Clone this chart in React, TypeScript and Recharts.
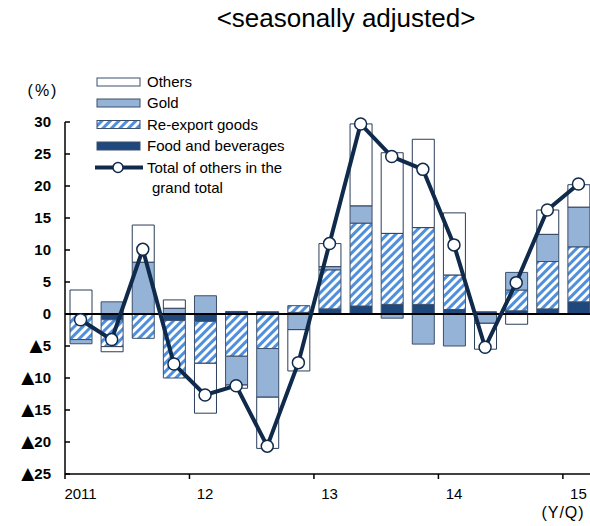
import React from 'react';
import { ComposedChart, Bar, Line, XAxis, YAxis, ReferenceLine } from 'recharts';

// quarters 2011Q1 .. 2015Q1
const quarters = [
  '11Q1', '11Q2', '11Q3', '11Q4',
  '12Q1', '12Q2', '12Q3', '12Q4',
  '13Q1', '13Q2', '13Q3', '13Q4',
  '14Q1', '14Q2', '14Q3', '14Q4',
  '15Q1',
];
const yearLabels = ['2011', '', '', '', '12', '', '', '', '13', '', '', '', '14', '', '', '', '15'];

const food = [0, -0.9, 0, -1.0, -1.15, 0.4, 0.35, 0.25, 0.8, 1.25, 1.5, 1.5, 0.7, 0.35, 0.5, 0.8, 1.9];
const reexport = [-4.0, -4.2, -3.8, -9.0, -6.55, -6.6, -5.4, 1.05, 6.1, 12.95, 11.1, 12.0, 5.4, 0, 3.25, 7.4, 8.6];
const gold = [-0.65, 1.9, 8.1, 0.9, 2.85, -4.5, -7.6, -2.45, 0.5, 2.7, -0.65, -4.7, -5.0, -1.45, 2.75, 4.25, 6.2];
const others = [3.75, -0.8, 5.8, 1.3, -7.8, -0.5, -8.0, -6.45, 3.6, 12.8, 12.6, 13.8, 9.7, -4.05, -1.6, 3.8, 3.5];
const total = [-0.9, -4.0, 10.1, -7.8, -12.65, -11.2, -20.65, -7.6, 11.0, 29.7, 24.6, 22.6, 10.8, -5.2, 4.9, 16.25, 20.3];

const yTicks = [-25, -20, -15, -10, -5, 0, 5, 10, 15, 20, 25, 30];

const data = quarters.map((q, i) => ({
  q,
  food: food[i],
  reexport: reexport[i],
  gold: gold[i],
  others: others[i],
  total: total[i],
}));

const FONT = '"Liberation Sans", Arial, sans-serif';
const NAVY = '#0f2a4a';
const FOOD = '#1f497d';
const GOLD = '#95b3d7';
const HATCH = '#4f8fdc';
const EDGE = '#3b4f6b';

const YTick = (props: any) => {
  const { x, y, payload } = props;
  const v = payload.value;
  return (
    <g>
      <line x1={x + 14} x2={x + 19} y1={y} y2={y} stroke="#000" strokeWidth={1.5} />
      <text x={x} y={y} dy={5} textAnchor="end" fontSize={15} fontWeight="bold" fontFamily={FONT} fill="#000">
        {v < 0 && (
          <tspan fontSize={17} fontWeight="normal" fontFamily='"DejaVu Sans", sans-serif'>
            ▲
          </tspan>
        )}
        <tspan>{Math.abs(v)}</tspan>
      </text>
    </g>
  );
};

const XTick = (props: any) => {
  const { x, y, payload } = props;
  const idx = quarters.indexOf(payload.value);
  const half = payload.offset ?? 15.56;
  if (idx % 4 !== 0) return null;
  return (
    <g>
      <line x1={x - half} x2={x - half} y1={y} y2={y + 5} stroke="#000" strokeWidth={1.5} />
      <text x={x} y={y + 25} textAnchor="middle" fontSize={15} fontFamily={FONT} fill="#000">
        {yearLabels[idx]}
      </text>
    </g>
  );
};

const Hatch = ({ id }: { id: string }) => (
  <pattern id={id} width="6" height="6" patternUnits="userSpaceOnUse" patternTransform="rotate(45)">
    <rect width="6" height="6" fill="#fff" />
    <rect width="3" height="6" fill={HATCH} />
  </pattern>
);

const legendRows = [
  { label: 'Others', fill: '#fff', y: 82 },
  { label: 'Gold', fill: GOLD, y: 103 },
  { label: 'Re-export goods', fill: 'url(#hatchLegend)', y: 124.5 },
  { label: 'Food and beverages', fill: FOOD, y: 146 },
];

const App: React.FC = () => {
  return (
    <div style={{ position: 'absolute', left: 0, top: 0, width: 590, height: 526, overflow: 'hidden', background: '#fff' }}>
      <ComposedChart
        width={600}
        height={526}
        data={data}
        stackOffset="sign"
        margin={{ top: 122, right: 6, bottom: 22, left: 20 }}
      >
        <defs>
          <Hatch id="hatchBar" />
        </defs>
        <XAxis
          dataKey="q"
          interval={0}
          tickSize={0}
          tickMargin={0}
          height={30}
          tickLine={false}
          axisLine={{ stroke: '#000', strokeWidth: 1.5 }}
          tick={<XTick />}
        />
        <YAxis
          domain={[-25, 30]}
          ticks={yTicks}
          width={45}
          tickSize={0}
          tickMargin={14}
          tickLine={false}
          axisLine={{ stroke: '#000', strokeWidth: 1.5 }}
          tick={<YTick />}
        />
        <Bar dataKey="food" stackId="s" barSize={22} fill={FOOD} stroke={EDGE} strokeWidth={1} isAnimationActive={false} />
        <Bar dataKey="reexport" stackId="s" barSize={22} fill="url(#hatchBar)" stroke={EDGE} strokeWidth={1} isAnimationActive={false} />
        <Bar dataKey="gold" stackId="s" barSize={22} fill={GOLD} stroke={EDGE} strokeWidth={1} isAnimationActive={false} />
        <Bar dataKey="others" stackId="s" barSize={22} fill="#fff" stroke="#2b3d58" strokeWidth={1} isAnimationActive={false} />
        <ReferenceLine y={0} stroke="#000" strokeWidth={2} />
        <Line
          type="linear"
          dataKey="total"
          stroke={NAVY}
          strokeWidth={4}
          dot={{ r: 6, fill: '#fff', stroke: NAVY, strokeWidth: 1.5 }}
          isAnimationActive={false}
        />
      </ComposedChart>

      <svg width={590} height={526} style={{ position: 'absolute', left: 0, top: 0, pointerEvents: 'none' }}>
        <defs>
          <Hatch id="hatchLegend" />
        </defs>
        <text x={346} y={27} textAnchor="middle" fontSize={26} fontFamily={FONT} fill="#000">
          {'<seasonally adjusted>'}
        </text>
        <text x={43} y={96} textAnchor="middle" fontSize={16} letterSpacing={2} fontFamily={FONT} fill="#000">
          (%)
        </text>
        <text x={563} y={518} textAnchor="middle" fontSize={16} letterSpacing={1} fontFamily={FONT} fill="#000">
          (Y/Q)
        </text>
        {legendRows.map((r) => (
          <g key={r.label}>
            <rect x={97} y={r.y - 4} width={43} height={8} fill={r.fill} stroke={EDGE} strokeWidth={1} />
            <text x={147} y={r.y + 5} fontSize={15} fontFamily={FONT} fill="#000">
              {r.label}
            </text>
          </g>
        ))}
        <line x1={95} x2={143} y1={167.5} y2={167.5} stroke={NAVY} strokeWidth={4} />
        <circle cx={118} cy={167.5} r={5} fill="#fff" stroke={NAVY} strokeWidth={1.5} />
        <text x={147} y={172.5} fontSize={15} fontFamily={FONT} fill="#000">
          Total of others in the
        </text>
        <text x={152} y={193} fontSize={15} fontFamily={FONT} fill="#000">
          grand total
        </text>
      </svg>
    </div>
  );
};

export default App;
